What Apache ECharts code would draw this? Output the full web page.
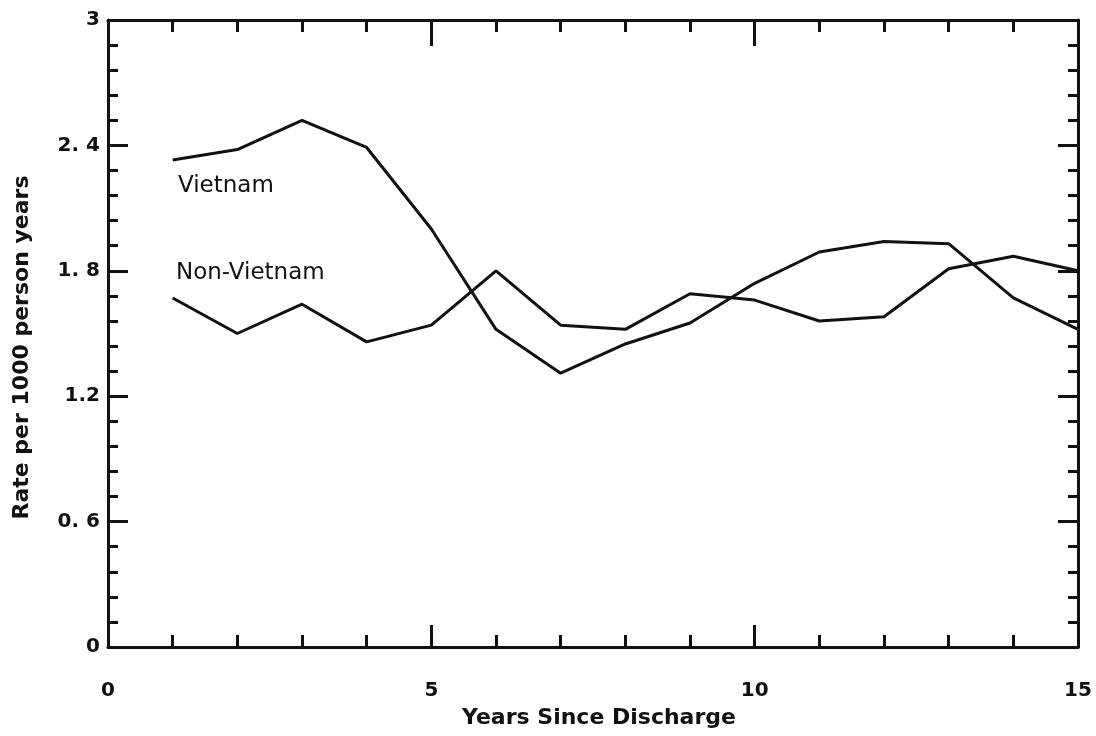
<!DOCTYPE html>
<html>
<head>
<meta charset="utf-8">
<script src="https://cdn.jsdelivr.net/npm/echarts@6/dist/echarts.min.js"></script>
<style>
    html, body { margin: 0; padding: 0; background: #fff; }
    #chart { width: 1096px; height: 736px; }
</style>
</head>
<body>
<div id="chart"></div>
<script>
    // years since discharge
    var years = [1, 2, 3, 4, 5, 6, 7, 8, 9, 10, 11, 12, 13, 14, 15];
    var vietnam = [2.33, 2.38, 2.52, 2.39, 2.00, 1.52, 1.31, 1.45, 1.55, 1.74, 1.89, 1.94, 1.93, 1.67, 1.52];
    var nonVietnam = [1.67, 1.50, 1.64, 1.46, 1.54, 1.80, 1.54, 1.52, 1.69, 1.66, 1.56, 1.58, 1.81, 1.87, 1.80];
    var yTickLabels = ['0', '0. 6', '1.2', '1. 8', '2. 4', '3'];
    var xTickLabels = ['0', '5', '10', '15'];

    function pairs(xs, ys) {
        return xs.map(function (x, i) { return [x, ys[i]]; });
    }

    var ink = '#111';
    var labelFont = { color: ink, fontFamily: 'DejaVu Sans', fontWeight: 'bold', fontSize: 20 };
    var titleFont = { color: ink, fontFamily: 'DejaVu Sans', fontWeight: 'bold', fontSize: 22 };

    function frameAxis(extra) {
        return Object.assign({
            type: 'value',
            axisLine: { onZero: false, lineStyle: { color: ink, width: 3 } },
            minorTick: { show: true, splitNumber: 5, lineStyle: { color: ink, width: 3 } },
            splitLine: { show: false }
        }, extra);
    }

    var myChart = echarts.init(document.getElementById('chart'));
    myChart.setOption({
        animation: false,
        backgroundColor: '#fff',
        grid: { left: 108, right: 18, top: 20, bottom: 89, outerBoundsMode: 'none', containLabel: false },
        xAxis: [
            frameAxis({
                min: 0, max: 15, interval: 5, position: 'bottom',
                name: 'Years Since Discharge', nameLocation: 'middle', nameGap: 60,
                nameTextStyle: Object.assign({ padding: [0, 0, 0, 12] }, titleFont),
                axisTick: { inside: true, length: 22, lineStyle: { color: ink, width: 3 } },
                minorTick: { show: true, splitNumber: 5, length: 12, lineStyle: { color: ink, width: 3 } },
                axisLabel: Object.assign({ margin: 34, formatter: function (v) { return xTickLabels[Math.round(v / 5)]; } }, labelFont)
            }),
            frameAxis({
                min: 0, max: 15, interval: 5, position: 'top',
                axisTick: { inside: true, length: 26, lineStyle: { color: ink, width: 3 } },
                minorTick: { show: true, splitNumber: 5, length: 12, lineStyle: { color: ink, width: 3 } },
                axisLabel: { show: false }
            })
        ],
        yAxis: [
            frameAxis({
                min: 0, max: 3, interval: 0.6, position: 'left',
                name: 'Rate per 1000 person years', nameLocation: 'middle', nameGap: 75,
                nameTextStyle: Object.assign({ padding: [0, 28, 0, 0] }, titleFont),
                axisTick: { inside: true, length: 20, lineStyle: { color: ink, width: 3 } },
                minorTick: { show: true, splitNumber: 5, length: 10, lineStyle: { color: ink, width: 3 } },
                axisLabel: Object.assign({ margin: 8, formatter: function (v) { return yTickLabels[Math.round(v / 0.6)]; } }, labelFont)
            }),
            frameAxis({
                min: 0, max: 3, interval: 0.6, position: 'right',
                axisTick: { inside: true, length: 20, lineStyle: { color: ink, width: 3 } },
                minorTick: { show: true, splitNumber: 5, length: 10, lineStyle: { color: ink, width: 3 } },
                axisLabel: { show: false }
            })
        ],
        graphic: [
            { type: 'text', left: 178, top: 175, style: { text: 'Vietnam', fill: ink, font: '23px "DejaVu Sans"' } },
            { type: 'text', left: 176, top: 262, style: { text: 'Non-Vietnam', fill: ink, font: '23px "DejaVu Sans"' } }
        ],
        series: [
            {
                name: 'Vietnam', type: 'line', data: pairs(years, vietnam),
                symbol: 'none', lineStyle: { color: ink, width: 3 }
            },
            {
                name: 'Non-Vietnam', type: 'line', data: pairs(years, nonVietnam),
                symbol: 'none', lineStyle: { color: ink, width: 3 }
            }
        ]
    });
</script>
</body>
</html>
